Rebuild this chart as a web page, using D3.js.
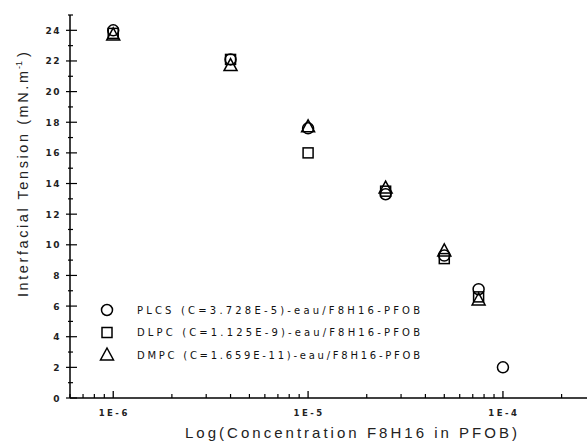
<!DOCTYPE html>
<html><head><meta charset="utf-8">
<script src="https://cdn.jsdelivr.net/npm/d3@7"></script>
<style>body{margin:0;background:#fff}svg{display:block}</style>
</head><body>
<svg id="c" width="587" height="441"></svg>
<script>
const concentrations = [1e-6, 4e-6, 1e-5, 2.5e-5, 5e-5, 7.5e-5, 1e-4];
const plcs = [24.0, 22.1, 17.6, 13.3, 9.3, 7.1, 2.0];
const dlpc = [23.8, 22.1, 16.0, 13.5, 9.1, 6.6];
const dmpc = [23.7, 21.7, 17.7, 13.7, 9.6, 6.4];
const seriesNames = ["PLCS (C=3.728E-5)-eau/F8H16-PFOB", "DLPC (C=1.125E-9)-eau/F8H16-PFOB", "DMPC (C=1.659E-11)-eau/F8H16-PFOB"];
const xMajorTicks = [1e-6, 1e-5, 1e-4];
const xTickLabels = ["1E-6", "1E-5", "1E-4"];
const xMinorTicks = [6e-7,7e-7,8e-7,9e-7,2e-6,3e-6,4e-6,5e-6,6e-6,7e-6,8e-6,9e-6,2e-5,3e-5,4e-5,5e-5,6e-5,7e-5,8e-5,9e-5,2e-4];
const yMajorTicks = [0,2,4,6,8,10,12,14,16,18,20,22,24];
const yMinorTicks = [1,3,5,7,9,11,13,15,17,19,21,23,25];

const svg = d3.select("#c");
const x = d3.scaleLog().domain([6e-7, 2.7e-4]).range([70, 587]);
const y = d3.scaleLinear().domain([0, 25]).range([398, 15]);
const font = "'Liberation Sans', Arial, sans-serif";
const tfont = "'DejaVu Sans', Arial, sans-serif";

// axes lines
svg.append("line").attr("x1", x.range()[0]).attr("x2", x.range()[1]).attr("y1", y(0)).attr("y2", y(0)).attr("stroke", "#000").attr("stroke-width", 1.5);
svg.append("line").attr("x1", x.range()[0]).attr("x2", x.range()[0]).attr("y1", y(0)).attr("y2", y(25)).attr("stroke", "#000").attr("stroke-width", 1.5);

// x ticks (inward)
svg.selectAll(".xmaj").data(xMajorTicks).join("line").attr("x1", d => x(d)).attr("x2", d => x(d)).attr("y1", y(0)).attr("y2", y(0) - 7).attr("stroke", "#000").attr("stroke-width", 1.3);
svg.selectAll(".xmin").data(xMinorTicks).join("line").attr("x1", d => x(d)).attr("x2", d => x(d)).attr("y1", y(0)).attr("y2", y(0) - 4).attr("stroke", "#000").attr("stroke-width", 1.2);
svg.selectAll(".xlab").data(xMajorTicks).join("text").attr("x", d => x(d) + 1).attr("y", y(0) + 18).attr("text-anchor", "middle")
  .attr("font-family", tfont).attr("font-size", 8.5).attr("font-weight", "bold").attr("letter-spacing", 2.5).attr("fill", "#222").text((d, i) => xTickLabels[i]);

// y ticks
svg.selectAll(".ymaj").data(yMajorTicks).join("line").attr("x1", 66).attr("x2", 77).attr("y1", d => y(d)).attr("y2", d => y(d)).attr("stroke", "#000").attr("stroke-width", 1.2);
svg.selectAll(".ymin").data(yMinorTicks).join("line").attr("x1", 68).attr("x2", 73).attr("y1", d => y(d)).attr("y2", d => y(d)).attr("stroke", "#000").attr("stroke-width", 1.2);
svg.selectAll(".ylab").data(yMajorTicks).join("text").attr("x", 61).attr("y", d => y(d) + 3.5).attr("text-anchor", "end")
  .attr("font-family", tfont).attr("font-size", 9).attr("font-weight", "bold").attr("letter-spacing", 1.5).attr("fill", "#222").text(d => d);

// y axis title (rotated), spans y 297 -> 47
const yt = svg.append("g").attr("transform", "translate(28,297) rotate(-90)");
yt.append("text").attr("x", 0).attr("y", 0).attr("font-family", font).attr("font-size", 14.5).attr("fill", "#222")
  .attr("textLength", 226).attr("lengthAdjust", "spacing").text("Interfacial Tension (mN.m");
yt.append("text").attr("x", 228).attr("y", -6).attr("font-family", font).attr("font-size", 9).attr("fill", "#222").text("-1");
yt.append("text").attr("x", 240).attr("y", 0).attr("font-family", font).attr("font-size", 14.5).attr("fill", "#222").text(")");

// x axis title
svg.append("text").attr("x", 185).attr("y", 438).attr("font-family", font).attr("font-size", 15).attr("fill", "#222")
  .attr("textLength", 332).attr("lengthAdjust", "spacing").text("Log(Concentration F8H16 in PFOB)");

// markers
const sw = 1.5;
function circle(g, cx, cy) { g.append("circle").attr("cx", cx).attr("cy", cy).attr("r", 5.5).attr("fill", "none").attr("stroke", "#000").attr("stroke-width", sw); }
function square(g, cx, cy) { g.append("rect").attr("x", cx - 5).attr("y", cy - 5).attr("width", 10).attr("height", 10).attr("fill", "none").attr("stroke", "#000").attr("stroke-width", sw); }
function triangle(g, cx, cy) { g.append("path").attr("d", `M${cx},${cy - 7}L${cx + 6.5},${cy + 5}L${cx - 6.5},${cy + 5}Z`).attr("fill", "none").attr("stroke", "#000").attr("stroke-width", sw); }
const shapes = [circle, square, triangle];
const allSeries = [plcs, dlpc, dmpc];
const gm = svg.append("g");
allSeries.forEach((s, k) => s.forEach((v, i) => shapes[k](gm, x(concentrations[i]), y(v))));

// legend
const lg = svg.append("g");
seriesNames.forEach((name, k) => {
  const ly = 310 + k * 22.5;
  shapes[k](lg, 107, ly);
  lg.append("text").attr("x", 137).attr("y", ly + 3.5).attr("font-family", tfont).attr("font-size", 10)
    .attr("fill", "#111").attr("textLength", 283).attr("lengthAdjust", "spacing").text(name);
});
</script>
</body></html>
